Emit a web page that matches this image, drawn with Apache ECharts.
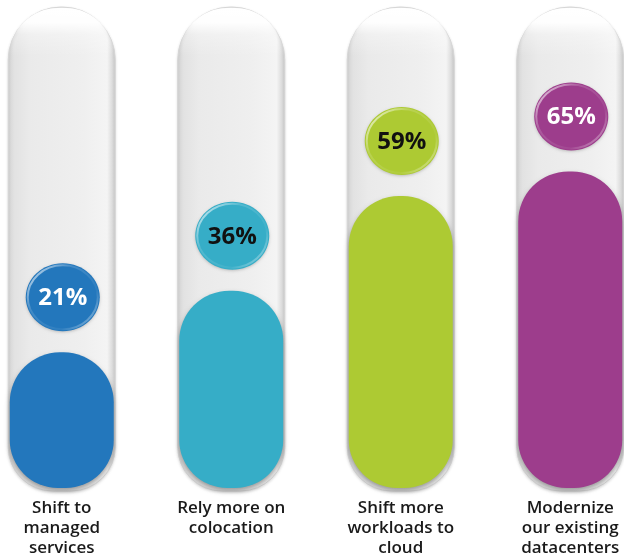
<!DOCTYPE html>
<html>
<head>
<meta charset="utf-8">
<script src="https://cdn.jsdelivr.net/npm/echarts@6/dist/echarts.min.js"></script>
<style>html,body{margin:0;padding:0;background:#fff;}#c{width:624px;height:557px;}</style>
</head>
<body>
<div id="c"></div>
<script>
const categories = ['Shift to\nmanaged\nservices', 'Rely more on\ncolocation', 'Shift more\nworkloads to\ncloud', 'Modernize\nour existing\ndatacenters'];
const values = [21, 36, 59, 65];
const barColors = ['#2377bc', '#36adc7', '#adca33', '#9d3d8c'];
const labelColors = ['#ffffff', '#111111', '#111111', '#ffffff'];
const yMin = -12;
const yMax = 105;

const chart = echarts.init(document.getElementById('c'));

function tubeItem(params, api) {
  const i = api.value(0);
  const top = api.coord([i, yMax]);
  const bot = api.coord([i, yMin]);
  const w = 107;
  const x = top[0] - w / 2;
  return {
    type: 'group',
    children: [
      {
        type: 'rect',
        shape: { x: x, y: top[1], width: w, height: bot[1] - top[1] + 3, r: [53, 53, 44, 44] },
        style: {
          fill: new echarts.graphic.LinearGradient(0, 0, 1, 0, [
            { offset: 0, color: '#d2d2d2' },
            { offset: 0.06, color: '#e2e2e2' },
            { offset: 0.2, color: '#eaeaea' },
            { offset: 0.7, color: '#efefef' },
            { offset: 0.92, color: '#f4f4f4' },
            { offset: 1, color: '#cbcbcb' }
          ]),
          stroke: '#d6d6d6',
          lineWidth: 1,
          shadowBlur: 3,
          shadowColor: 'rgba(0,0,0,0.12)',
          shadowOffsetY: 1
        }
      },
      {
        type: 'rect',
        shape: { x: x + 1.5, y: top[1] + 1, width: w - 3, height: 48, r: [52, 52, 0, 0] },
        style: {
          fill: new echarts.graphic.LinearGradient(0, 0, 0, 1, [
            { offset: 0, color: 'rgba(255,255,255,1)' },
            { offset: 0.3, color: 'rgba(255,255,255,0.95)' },
            { offset: 0.55, color: 'rgba(255,255,255,0.3)' },
            { offset: 1, color: 'rgba(255,255,255,0)' }
          ])
        }
      }
    ]
  };
}

function barItem(params, api) {
  const i = api.value(0);
  const v = api.value(1);
  const top = api.coord([i, v]);
  const bot = api.coord([i, yMin]);
  const w = 104;
  return {
    type: 'rect',
    shape: { x: top[0] - w / 2, y: top[1], width: w, height: bot[1] - top[1], r: [50, 50, 48, 48] },
    style: {
      fill: barColors[params.dataIndex],
      shadowBlur: 5,
      shadowColor: 'rgba(0,0,0,0.35)',
      shadowOffsetY: 3
    }
  };
}

function bubbleItem(params, api) {
  const i = api.value(0);
  const v = api.value(1);
  const p = api.coord([i, v]);
  const cx = p[0] + 1;
  const cy = p[1] - 55;
  const c = barColors[params.dataIndex];
  return {
    type: 'group',
    children: [
      {
        type: 'ellipse',
        shape: { cx: cx, cy: cy, rx: 37, ry: 34 },
        style: { fill: c, shadowBlur: 3, shadowColor: 'rgba(0,0,0,0.2)', shadowOffsetY: 1 }
      },
      {
        type: 'ellipse',
        shape: { cx: cx, cy: cy, rx: 35, ry: 32 },
        style: {
          fill: 'none',
          stroke: new echarts.graphic.LinearGradient(0, 0, 1, 1, [
            { offset: 0, color: 'rgba(255,255,255,0.9)' },
            { offset: 0.35, color: 'rgba(255,255,255,0.15)' },
            { offset: 0.7, color: 'rgba(255,255,255,0.05)' },
            { offset: 1, color: 'rgba(255,255,255,0.6)' }
          ]),
          lineWidth: 2
        }
      },
      {
        type: 'text',
        style: {
          x: cx,
          y: cy + 1,
          text: v + '%',
          fill: labelColors[params.dataIndex],
          font: 'bold 24px "Open Sans"',
          align: 'center',
          verticalAlign: 'middle'
        }
      }
    ]
  };
}

chart.setOption({
  animation: false,
  grid: { left: -23, right: -31, top: 7, bottom: 69, outerBoundsMode: 'none', containLabel: false },
  xAxis: {
    type: 'category',
    data: categories,
    axisLine: { show: false },
    axisTick: { show: false },
    axisLabel: {
      margin: 10,
      fontFamily: 'Open Sans',
      fontWeight: 600,
      fontSize: 17,
      lineHeight: 20,
      color: '#1a1a1a',
      interval: 0
    }
  },
  yAxis: { type: 'value', min: yMin, max: yMax, show: false, splitLine: { show: false } },
  series: [
    { type: 'custom', renderItem: tubeItem, data: categories.map((c, i) => [i, yMax]), z: 1 },
    { type: 'custom', renderItem: barItem, data: values.map((v, i) => [i, v]), z: 2 },
    { type: 'custom', renderItem: bubbleItem, data: values.map((v, i) => [i, v]), z: 3 }
  ]
});
</script>
</body>
</html>
